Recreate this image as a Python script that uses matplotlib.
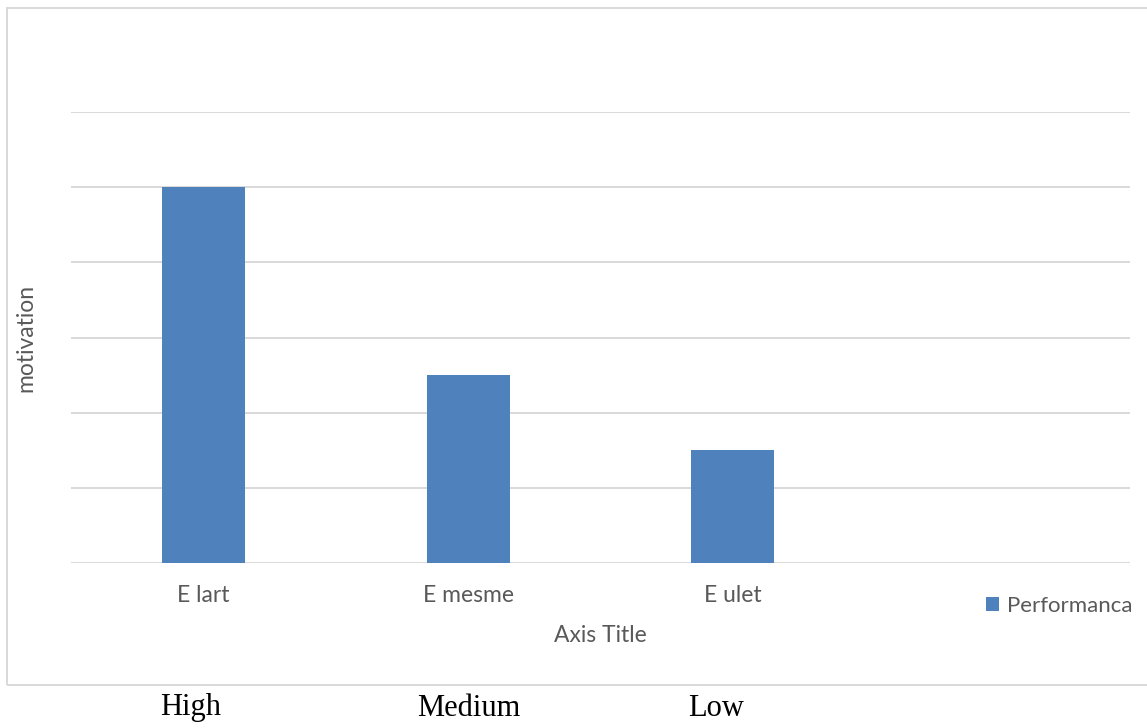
import matplotlib.pyplot as plt
from matplotlib.patches import Rectangle

categories = ["E lart", "E mesme", "E ulet"]
performanca = [5, 2.5, 1.5]
levels = ["High", "Medium", "Low"]
level_x = [191, 469, 716]  # pixel centres under the chart box

W, H = 1147, 728
bar_color = "#4f81bd"
grid_color = "#d9d9d9"
text_color = "#595959"

plt.rcParams["font.family"] = ["Lato", "DejaVu Sans"]

fig = plt.figure(figsize=(W / 100, H / 100), dpi=100)
ax = fig.add_axes([71 / W, 1 - 563 / H, (1130 - 71) / W, (563 - 112) / H])

# chart frame (open on the right, like the cropped sheet)
fig.patches.append(Rectangle((7 / W, 1 - 685 / H), 1.2, (685 - 8) / H,
                             transform=fig.transFigure, fill=False,
                             edgecolor=grid_color, linewidth=1.4))

x = list(range(len(categories)))
ax.bar(x, performanca, width=0.313, color=bar_color, label="Performanca", zorder=3)

ax.set_xlim(-0.5, len(categories) + 0.5)
ax.set_ylim(0, 6)
ax.set_yticks(range(0, 7))
ax.yaxis.grid(True, color=grid_color, linewidth=1.4)
ax.set_axisbelow(True)
ax.tick_params(axis="y", length=0, labelleft=False)
ax.tick_params(axis="x", length=0, pad=16, labelsize=16.5, labelcolor=text_color)
ax.set_xticks(x)
ax.set_xticklabels(categories)
for s in ax.spines.values():
    s.set_visible(False)

ax.set_xlabel("Axis Title", fontsize=16.5, color=text_color)
ax.xaxis.set_label_coords(0.5, (563 - 635) / 451)
ax.xaxis.label.set_va("center")
ax.set_ylabel("motivation", fontsize=16.5, color=text_color)
ax.yaxis.set_label_coords((26 - 71) / 1059, 0.5)
ax.yaxis.label.set_va("center")

ax.legend(loc="center left", bbox_to_anchor=(986 / W, 1 - 606 / H),
          bbox_transform=fig.transFigure, frameon=False, fontsize=16,
          labelcolor=text_color, handlelength=0.6, handleheight=0.6,
          handletextpad=0.35, borderpad=0, borderaxespad=0)

for lab, px in zip(levels, level_x):
    fig.text(px / W, 1 - 708 / H, lab, ha="center", va="center",
             family="Liberation Serif", fontsize=22, color="black")

fig.savefig("out.png", dpi=100, facecolor="white")
